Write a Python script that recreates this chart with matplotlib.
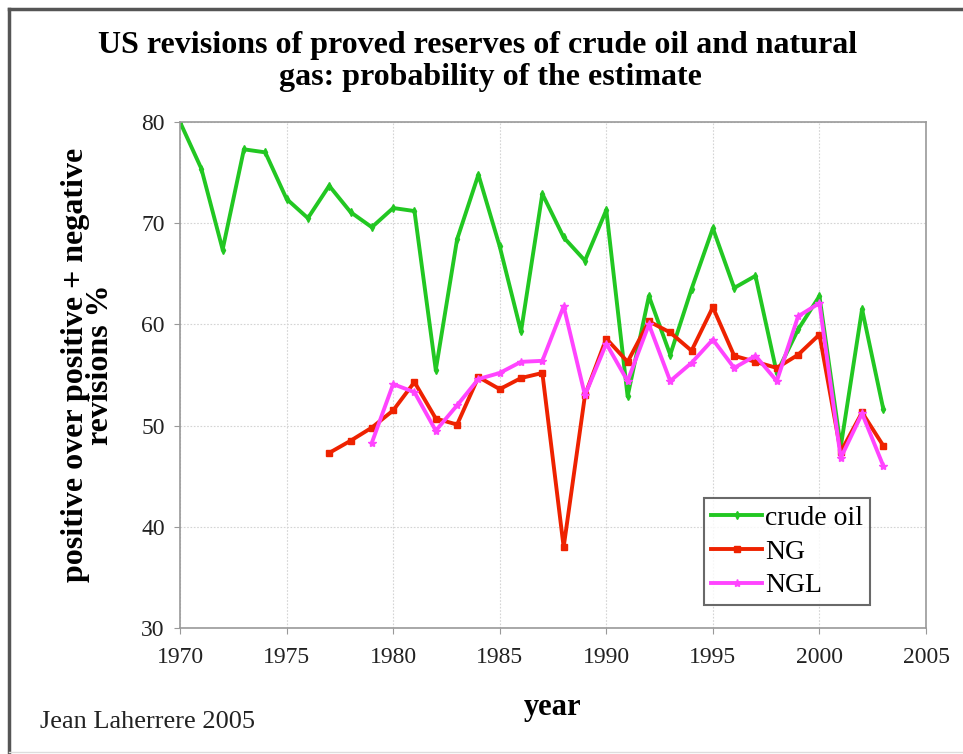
#!/usr/bin/env python3

"""US revisions of proved reserves: probability of the estimate"""

import matplotlib
matplotlib.use("Agg")
import matplotlib.pyplot as plt
from matplotlib.lines import Line2D

years_oil = list(range(1970, 2004))
crude_oil = [80.0, 75.4, 67.4, 77.3, 77.0, 72.4, 70.5, 73.7, 71.1, 69.6,
             71.5, 71.2, 55.5, 68.4, 74.8, 67.7, 59.3, 72.9, 68.6, 66.3,
             71.3, 52.9, 62.8, 57.0, 63.5, 69.5, 63.6, 64.8, 55.2, 59.5,
             62.8, 47.9, 61.5, 51.6]

years_ng = list(range(1977, 2004))
ng = [47.3, 48.5, 49.8, 51.5, 54.3, 50.7, 50.1, 54.8, 53.6, 54.7,
      55.2, 38.0, 53.0, 58.6, 56.3, 60.3, 59.2, 57.4, 61.7, 56.9,
      56.3, 55.7, 57.0, 59.0, 47.4, 51.3, 48.0]

years_ngl = list(range(1979, 2004))
ngl = [48.3, 54.1, 53.3, 49.5, 52.0, 54.6, 55.2, 56.3, 56.4, 61.8,
       53.0, 58.1, 54.4, 60.0, 54.4, 56.2, 58.5, 55.7, 56.9, 54.4,
       60.8, 62.1, 46.8, 51.2, 46.0]

x_ticks = [1970, 1975, 1980, 1985, 1990, 1995, 2000, 2005]
y_ticks = [30, 40, 50, 60, 70, 80]

plt.rcParams["font.family"] = ["Liberation Serif", "DejaVu Serif"]

W, H = 963, 754
fig = plt.figure(figsize=(W / 100, H / 100), dpi=100)
ax = fig.add_axes([180 / W, 1 - 628 / H, 746 / W, 506 / H])

ax.plot(years_oil, crude_oil, color="#22c722", lw=2.8, marker="d", ms=4,
        label="crude oil")
ax.plot(years_ng, ng, color="#ee2200", lw=2.8, marker="s", ms=4,
        label="NG")
ax.plot(years_ngl, ngl, color="#ff44ff", lw=2.8, marker="*", ms=6,
        label="NGL")

ax.set_xlim(1970, 2005)
ax.set_ylim(30, 80)
ax.set_xticks(x_ticks)
ax.set_yticks(y_ticks)
ax.tick_params(labelsize=17, colors="#222222", length=4, color="#999999")
ax.tick_params(axis="x", pad=10)
ax.tick_params(axis="y", pad=7)
ax.grid(True, color="#d4d4d4", lw=0.8, ls=(0, (1.5, 1.5)))
for sp in ax.spines.values():
    sp.set_color("#999999")
    sp.set_linewidth(1.2)

fig.text(553 / W, 1 - 708 / H, "year", fontsize=22, fontweight="bold",
         ha="center", va="center")
fig.text(88 / W, 1 - 365 / H, "positive over positive + negative\nrevisions %",
         fontsize=23, fontweight="bold", rotation=90, ha="center",
         va="center", linespacing=0.8)

fig.text(478 / W, 1 - 45 / H, "US revisions of proved reserves of crude oil and natural",
         ha="center", va="center", fontsize=23, fontweight="bold")
fig.text(490 / W, 1 - 78 / H, "gas: probability of the estimate",
         ha="center", va="center", fontsize=23, fontweight="bold")
fig.text(40 / W, 1 - 722 / H, "Jean Laherrere 2005", fontsize=19,
         va="center", color="#222222")

leg = ax.legend(loc="lower right", bbox_to_anchor=(0.925, 0.045),
                fontsize=20, frameon=True, fancybox=False, handlelength=1.85,
                handletextpad=0.1, borderpad=0.25, labelspacing=0.3,
                borderaxespad=0)
leg.get_frame().set_edgecolor("#444444")
leg.get_frame().set_linewidth(1.5)

# outer frame of the picture
fig.add_artist(Line2D([9 / W, 9 / W], [0, 1 - 9 / H], color="#555555",
                      lw=2.5, transform=fig.transFigure))
fig.add_artist(Line2D([9 / W, 1], [1 - 9 / H, 1 - 9 / H],
                      color="#555555", lw=2.5, transform=fig.transFigure))
fig.add_artist(Line2D([9 / W, 1], [2 / H, 2 / H], color="#dddddd",
                      lw=1, transform=fig.transFigure))

fig.savefig("out.png", dpi=100)
